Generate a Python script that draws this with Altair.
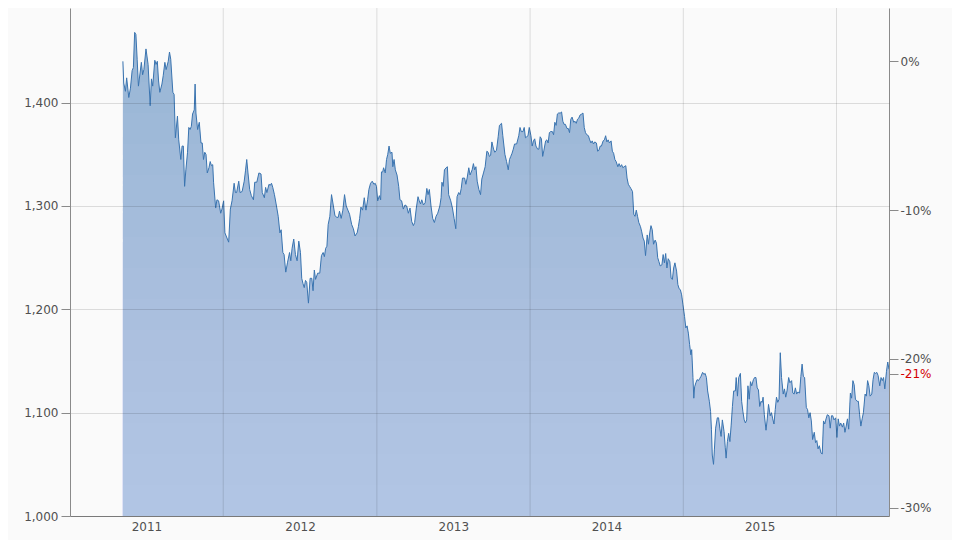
import altair as alt
import pandas as pd

START = "2011-01-01"

# days since 2011-01-01 and index level
days = [
    126, 128, 132, 135, 140, 144, 148, 151, 154, 157, 160, 163, 170, 173, 176, 181, 186, 191, 194, 197,
    202, 205, 208, 211, 214, 219, 222, 226, 229, 234, 237, 240, 245, 248, 251, 256, 259, 264, 267, 270,
    273, 276, 280, 283, 286, 289, 292, 296, 298, 300, 304, 308, 312, 315, 318, 321, 324, 327, 331, 334,
    337, 340, 342, 347, 350, 354, 359, 362, 366, 369, 374, 378, 382, 386, 391, 394, 397, 402, 405, 410,
    415, 418, 421, 424, 428, 432, 437, 440, 445, 450, 455, 458, 463, 466, 469, 474, 477, 480, 483, 487,
    491, 496, 500,
    503, 507, 510, 514, 518, 523, 526, 529, 533, 537, 541, 545, 549, 552, 555, 558, 561, 564, 568, 572,
    576, 579, 582, 585, 590, 595, 599, 603, 606, 609, 612, 615, 619, 623, 627, 631, 635, 639, 642, 646,
    650, 654, 658, 662, 666, 671, 675, 679, 684, 687, 690, 693, 697, 701, 705, 709, 712, 716, 720, 724,
    727, 730, 733, 737, 740, 742, 745, 747, 751, 754, 757, 760, 763, 767, 769, 772, 775, 779, 783, 786,
    790, 794, 798, 802, 806, 810, 814, 818, 821, 825, 829, 832, 835, 838, 842, 846, 850, 853, 856, 860,
    864, 868, 872, 876, 881,
    884, 886, 889, 892, 896, 899, 902, 907, 911, 915, 919, 922, 926, 929, 932, 935, 940, 943, 946, 950,
    953, 958, 961, 964, 967, 970, 974, 978, 981, 985, 989, 993, 996, 999, 1002, 1005, 1009, 1012, 1016, 1020,
    1023, 1028, 1031, 1036, 1040, 1044, 1047, 1050, 1053, 1056, 1059, 1064, 1069, 1072, 1075, 1079, 1082, 1085, 1088, 1091,
    1094, 1098, 1101, 1104, 1107, 1110, 1114, 1117, 1120, 1123, 1126, 1129, 1133, 1136, 1139, 1142, 1145, 1149, 1152, 1155,
    1158, 1161, 1164, 1168, 1171, 1174, 1177, 1180, 1184, 1187, 1190, 1193, 1196, 1200, 1203, 1206, 1209, 1212, 1215, 1219,
    1222, 1225, 1228, 1231, 1235, 1238, 1241, 1244, 1247, 1250, 1254, 1257, 1260, 1263,
    1266, 1270, 1273, 1276, 1279, 1282, 1285, 1289, 1292, 1295, 1298, 1301, 1305, 1308, 1311, 1314, 1317, 1320, 1324, 1327,
    1330, 1333, 1336, 1340, 1343, 1346, 1349, 1352, 1355, 1359, 1362, 1365, 1368, 1371, 1375, 1378, 1381, 1384, 1387, 1390,
    1394, 1397, 1400, 1403, 1406, 1410, 1413, 1416, 1419, 1422, 1425, 1429, 1432, 1435, 1438, 1441, 1445, 1448, 1451, 1454,
    1457, 1460, 1464, 1467, 1470, 1473, 1476, 1479, 1481, 1484, 1486, 1488, 1491, 1494, 1497, 1500, 1503, 1507, 1510, 1513,
    1516, 1519, 1523, 1526, 1528, 1530, 1533, 1535, 1538, 1542, 1545, 1548, 1551, 1554, 1558, 1561, 1563, 1566, 1569, 1572,
    1575, 1578, 1581, 1585, 1587, 1590, 1593, 1597, 1600, 1603, 1606, 1609, 1612, 1615, 1618, 1621, 1624, 1628, 1631, 1634,
    1637, 1640, 1643, 1646,
    1649, 1651, 1654, 1658, 1661, 1664, 1668, 1671, 1674, 1677, 1680, 1683, 1686, 1689, 1692, 1695, 1699, 1702, 1705, 1708,
    1712, 1715, 1719, 1722, 1725, 1728, 1731, 1734, 1738, 1741, 1744, 1747, 1750, 1754, 1757, 1760, 1763, 1766, 1769, 1773,
    1776, 1779, 1782, 1785, 1789, 1792, 1795, 1798, 1801, 1804, 1808, 1811, 1814, 1817, 1820, 1824, 1827, 1830, 1833, 1836,
    1840, 1843, 1846, 1849, 1852, 1855, 1859, 1862, 1865, 1868, 1871, 1875, 1878, 1881, 1884, 1887, 1890, 1894, 1897, 1900,
    1903, 1906, 1910, 1913, 1916, 1919, 1922, 1925, 1929, 1932, 1935, 1938, 1941, 1945, 1948, 1951,
]

values = [
    1440, 1419, 1411, 1424, 1405, 1414, 1431, 1434, 1468, 1466, 1442, 1416, 1439, 1427, 1432, 1452, 1437, 1397, 1423, 1416,
    1441, 1437, 1440, 1421, 1410, 1418, 1426, 1439, 1432, 1440, 1449, 1442, 1410, 1408, 1366, 1387, 1364, 1345, 1358, 1358,
    1319, 1335, 1352, 1376, 1374, 1377, 1389, 1393, 1418, 1390, 1374, 1381, 1361, 1361, 1345, 1352, 1350, 1332, 1337, 1343,
    1339, 1340, 1323, 1298, 1306, 1305, 1293, 1297, 1305, 1274, 1269, 1265, 1297, 1305, 1322, 1313, 1313, 1324, 1313, 1314,
    1324, 1334, 1345, 1332, 1316, 1310, 1306, 1323, 1323, 1332, 1331, 1313, 1308, 1318, 1313, 1321, 1320, 1322, 1318, 1311,
    1302, 1290, 1274,
    1277, 1255, 1253, 1236, 1245, 1255, 1247, 1259, 1268, 1253, 1247, 1266, 1255, 1230, 1225, 1221, 1228, 1226, 1206, 1230,
    1230, 1218, 1238, 1229, 1235, 1235, 1252, 1255, 1251, 1259, 1261, 1282, 1290, 1311, 1301, 1291, 1289, 1289, 1295, 1288,
    1296, 1311, 1300, 1296, 1292, 1282, 1278, 1271, 1274, 1280, 1288, 1299, 1296, 1308, 1296, 1306, 1316, 1322, 1324, 1321,
    1322, 1319, 1305, 1310, 1306, 1333, 1333, 1337, 1332, 1345, 1350, 1358, 1351, 1352, 1338, 1345, 1335, 1330, 1319, 1306,
    1305, 1297, 1301, 1300, 1293, 1298, 1285, 1281, 1284, 1298, 1309, 1305, 1302, 1306, 1301, 1303, 1317, 1311, 1316, 1300,
    1288, 1284, 1290, 1293, 1300,
    1308, 1323, 1319, 1335, 1337, 1338, 1311, 1305, 1298, 1288, 1278, 1309, 1313, 1311, 1317, 1327, 1327, 1321, 1327, 1337,
    1330, 1335, 1341, 1335, 1338, 1324, 1316, 1311, 1326, 1332, 1338, 1353, 1352, 1348, 1349, 1362, 1355, 1352, 1354, 1367,
    1378, 1380, 1368, 1350, 1343, 1335, 1345, 1348, 1351, 1355, 1360, 1360, 1368, 1376, 1372, 1372, 1376, 1366, 1367, 1368,
    1376, 1368, 1358, 1363, 1365, 1358, 1355, 1355, 1367, 1365, 1348, 1354, 1363, 1364, 1361, 1371, 1372, 1372, 1369, 1381,
    1378, 1389, 1390, 1390, 1391, 1382, 1379, 1379, 1375, 1375, 1371, 1384, 1386, 1381, 1382, 1380, 1384, 1385, 1388, 1389,
    1390, 1376, 1371, 1369, 1368, 1364, 1361, 1363, 1360, 1362, 1361, 1353, 1354, 1358,
    1358, 1363, 1364, 1368, 1362, 1364, 1361, 1363, 1353, 1351, 1345, 1343, 1338, 1341, 1338, 1340, 1337, 1338, 1339, 1327,
    1321, 1319, 1317, 1314, 1292, 1290, 1296, 1290, 1284, 1280, 1275, 1269, 1266, 1252, 1272, 1263, 1274, 1281, 1277, 1263,
    1267, 1264, 1250, 1246, 1242, 1243, 1253, 1245, 1254, 1240, 1249, 1246, 1230, 1229, 1240, 1245, 1237, 1224, 1220, 1219,
    1214, 1205, 1193, 1182, 1184, 1177, 1166, 1156, 1161, 1134, 1114, 1125, 1129, 1132, 1131, 1133, 1135, 1139, 1137, 1138,
    1134, 1121, 1111, 1101, 1084, 1059, 1050, 1064, 1085, 1095, 1095, 1085, 1077, 1093, 1082, 1066, 1056, 1072, 1080, 1072,
    1088, 1106, 1121, 1121, 1134, 1116, 1134, 1138, 1111, 1101, 1093, 1090, 1093, 1126, 1113, 1130, 1126, 1132, 1134, 1134,
    1124, 1122, 1106, 1111,
    1110, 1115, 1098, 1083, 1094, 1108, 1097, 1100, 1094, 1089, 1103, 1115, 1110, 1113, 1158, 1134, 1118, 1123, 1115, 1121,
    1134, 1129, 1131, 1119, 1118, 1124, 1118, 1120, 1119, 1135, 1147, 1135, 1134, 1105, 1103, 1095, 1100, 1092, 1074, 1081,
    1071, 1073, 1065, 1068, 1061, 1060, 1092, 1089, 1094, 1098, 1097, 1085, 1097, 1097, 1093, 1095, 1076, 1094, 1087, 1090,
    1086, 1090, 1081, 1087, 1094, 1084, 1119, 1114, 1131, 1127, 1113, 1111, 1111, 1098, 1087, 1094, 1100, 1118, 1116, 1131,
    1126, 1116, 1118, 1132, 1139, 1138, 1139, 1136, 1126, 1134, 1131, 1134, 1123, 1140, 1149, 1142,
]

year_starts = ["2012-01-01", "2013-01-01", "2014-01-01", "2015-01-01", "2016-01-01"]
label_years = [2011, 2012, 2013, 2014, 2015]
left_ticks = [1000, 1100, 1200, 1300, 1400]
pct_ticks = [0.0, -0.1, -0.2, -0.3]
Y_MIN, Y_MAX = 1000, 1491.6

# styling: fill gets lighter towards the bottom (stacked translucent veils)
veil_levels = list(range(1030, 1460, 30))
VEIL_COLOR = "#dcf0fd"
VEIL_OPACITY = 0.034

FONT = "DejaVu Sans"
TXT = "#505050"
AX = "#8a8a8a"
GRID = "#000000"
GRID_OP = 0.12

dates = pd.Timestamp(START) + pd.to_timedelta(days, unit="D")
df = pd.DataFrame({"date": dates, "value": values})
base = values[0]
df["pct"] = df["value"] / base - 1
last_pct = round(values[-1] / base - 1, 2)

last = dates[-1]
x_scale = alt.Scale(
    domain=[alt.DateTime(year=2011, month=1, date=1),
            alt.DateTime(year=int(last.year), month=int(last.month), date=int(last.day))]
)
y_scale = alt.Scale(domain=[Y_MIN, Y_MAX], nice=False, zero=False)
x_enc = alt.X("date:T", scale=x_scale, title=None)

fill_area = alt.Chart(df).mark_area(color="#98b6d5", opacity=1, clip=True).encode(
    x=alt.X("date:T", scale=x_scale, title=None,
            axis=alt.Axis(values=[alt.DateTime(year=y, month=7, date=2) for y in label_years],
                          format="%Y", ticks=False, grid=False, labelPadding=5,
                          domainColor=AX, labelColor=TXT, labelFont=FONT, labelFontSize=12)),
    y=alt.Y("value:Q", scale=y_scale, title=None,
            axis=alt.Axis(values=left_ticks, format=",d", tickSize=9, labelPadding=3, zindex=1,
                          gridColor=GRID, gridOpacity=GRID_OP, domainColor=AX, tickColor=AX,
                          labelColor=TXT, labelFont=FONT, labelFontSize=12)),
)

veils = [
    alt.Chart(df).transform_calculate(v=f"min(datum.value, {lv})")
    .mark_area(color=VEIL_COLOR, opacity=VEIL_OPACITY, clip=True)
    .encode(x=x_enc, y=alt.Y("v:Q", scale=y_scale, title=None))
    for lv in veil_levels
]

line = alt.Chart(df).mark_line(color="#3a74b0", strokeWidth=1, clip=True).encode(
    x=x_enc, y=alt.Y("value:Q", scale=y_scale, title=None)
)

grid_df = pd.DataFrame({"d": pd.to_datetime(year_starts)})
grid = alt.Chart(grid_df).mark_rule(color=GRID, opacity=GRID_OP, strokeWidth=1).encode(
    x=alt.X("d:T", scale=x_scale, title=None)
)

main = alt.layer(fill_area, *veils, line, grid)

pct_layer = alt.Chart(df).mark_line(opacity=0).encode(
    x=x_enc,
    y=alt.Y("pct:Q", title=None,
            scale=alt.Scale(domain=[Y_MIN / base - 1, Y_MAX / base - 1], nice=False, zero=False),
            axis=alt.Axis(orient="right", values=pct_ticks + [last_pct], grid=False,
                          tickSize=9, labelPadding=2, domainColor=AX, tickColor=AX,
                          labelFont=FONT, labelFontSize=12,
                          labelExpr="(datum.value < -0.0001 ? '-' : '') + format(abs(datum.value), '.0%')",
                          labelColor={"condition": {"test": f"abs(datum.value - ({last_pct})) < 0.0001",
                                                    "value": "#d40000"},
                                      "value": TXT})),
)

chart = (
    alt.layer(main, pct_layer)
    .resolve_scale(y="independent")
    .properties(width=819, height=508,
                autosize=alt.AutoSizeParams(type="none"),
                padding={"left": 62, "top": 0, "right": 63, "bottom": 24},
                background="#fafafa")
    .configure_view(stroke=None)
)

chart.save("out.html", embed_options={"renderer": "svg", "actions": False})
